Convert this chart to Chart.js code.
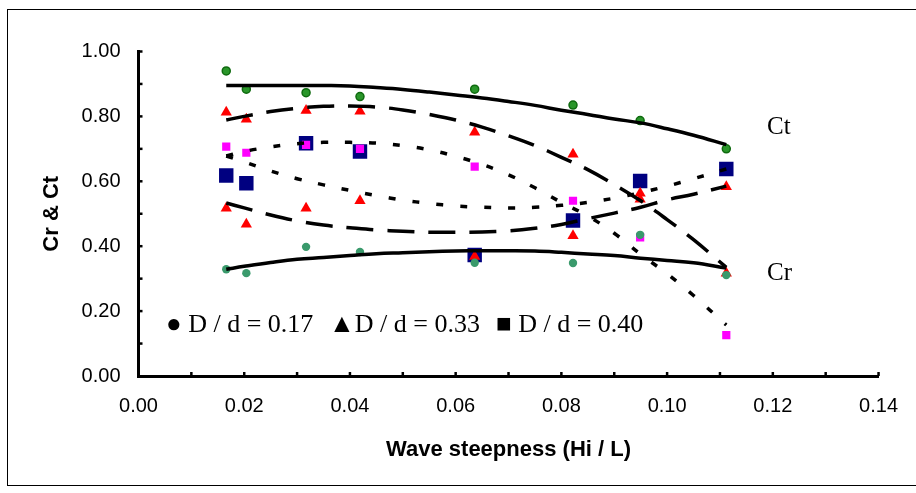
<!DOCTYPE html>
<html>
<head>
<meta charset="utf-8">
<script src="https://cdn.jsdelivr.net/npm/chart.js@4.4.0/dist/chart.umd.min.js"></script>
<style>
  html, body { margin: 0; padding: 0; background: #fff; }
  #wrap { position: relative; width: 916px; height: 493px; }
</style>
</head>
<body>
<div id="wrap"><canvas id="grafico" width="916" height="493"></canvas></div>
<script>
// ---------- dados medidos ----------
const ondaX = [0.0166, 0.0204, 0.0317, 0.0419, 0.0636, 0.0822, 0.0949, 0.1112];

const ctD017 = [0.940, 0.884, 0.873, 0.861, 0.884, 0.835, 0.787, 0.700];
const crD017 = [0.329, 0.317, 0.398, 0.382, 0.349, 0.348, 0.435, 0.311];
const ctD033 = [0.813, 0.791, 0.818, 0.816, 0.751, 0.683, 0.545, 0.317];
const crD033 = [0.517, 0.468, 0.517, 0.540, 0.368, 0.432, 0.563, 0.583];
const ctD040 = [0.618, 0.594, 0.717, 0.692, 0.373, 0.479, 0.601, 0.638];
const crD040 = [0.707, 0.688, 0.712, 0.700, 0.645, 0.540, 0.427, 0.126];

// linhas de tendência
const tendX = [0.0166, 0.02, 0.025, 0.03, 0.035, 0.04, 0.045, 0.05, 0.055, 0.06,
               0.065, 0.07, 0.075, 0.08, 0.085, 0.09, 0.095, 0.1, 0.105, 0.1112];
const tendCt017 = [0.895, 0.895, 0.895, 0.895, 0.895, 0.894, 0.889, 0.883, 0.875, 0.866,
                   0.857, 0.846, 0.834, 0.819, 0.806, 0.792, 0.780, 0.762, 0.742, 0.713];
const tendCr017 = [0.329, 0.338, 0.350, 0.360, 0.365, 0.371, 0.377, 0.380, 0.383, 0.385,
                   0.386, 0.386, 0.385, 0.381, 0.376, 0.371, 0.363, 0.356, 0.349, 0.333];
const tendCt033 = [0.789, 0.800, 0.815, 0.825, 0.831, 0.832, 0.829, 0.820, 0.806, 0.789,
                   0.767, 0.740, 0.710, 0.674, 0.636, 0.590, 0.540, 0.482, 0.420, 0.335];
const tendCr033 = [0.533, 0.518, 0.496, 0.478, 0.465, 0.457, 0.450, 0.446, 0.443, 0.443,
                   0.444, 0.447, 0.455, 0.467, 0.485, 0.502, 0.520, 0.543, 0.560, 0.585];
const tendCt040 = [0.678, 0.660, 0.632, 0.608, 0.589, 0.572, 0.556, 0.542, 0.532, 0.524,
                   0.520, 0.518, 0.520, 0.526, 0.535, 0.548, 0.565, 0.585, 0.608, 0.638];
const tendCr040 = [0.678, 0.692, 0.706, 0.716, 0.720, 0.720, 0.718, 0.710, 0.697, 0.677,
                   0.652, 0.620, 0.580, 0.535, 0.493, 0.440, 0.375, 0.315, 0.248, 0.157];

const legendas = ["\u25CF D / d = 0.17", "\u25B2D / d = 0.33", "\u25A0 D / d = 0.40"];

// ---------- helpers ----------
const pares = (xs, ys) => xs.map((x, i) => ({ x, y: ys[i] }));

function linha(ys, dash) {
  return {
    type: "line",
    data: pares(tendX, ys),
    borderColor: "#000",
    borderWidth: 3.5,
    borderDash: dash,
    borderCapStyle: "butt",
    pointRadius: 0,
    tension: 0.4,
    fill: false
  };
}

function pontos(ys, estilo, raio, cor, borda, bw) {
  return {
    type: "scatter",
    data: pares(ondaX, ys),
    pointStyle: estilo,
    pointRadius: raio,
    pointHoverRadius: raio,
    backgroundColor: cor,
    borderColor: borda || cor,
    borderWidth: bw || 0
  };
}

const fonteSerif = "'Liberation Serif', 'Times New Roman', serif";
const fonteSans = "'Liberation Sans', Arial, sans-serif";

// moldura, marcas internas dos eixos e textos
const extras = {
  id: "extras",
  beforeDraw(chart) {
    const ctx = chart.ctx;
    ctx.save();
    ctx.fillStyle = "#fff";
    ctx.fillRect(0, 0, chart.width, chart.height);
    ctx.strokeStyle = "#000";
    ctx.lineWidth = 1;
    ctx.strokeRect(7.5, 9.5, 930, 476);
    ctx.restore();
  },
  afterDraw(chart) {
    const ctx = chart.ctx;
    const sx = chart.scales.x, sy = chart.scales.y;
    ctx.save();
    ctx.strokeStyle = "#000";
    ctx.lineWidth = 2.5;
    for (let i = 1; i <= 14; i++) {
      const px = sx.getPixelForValue(i / 100);
      ctx.beginPath();
      ctx.moveTo(px, sy.bottom);
      ctx.lineTo(px, sy.bottom - 4);
      ctx.stroke();
    }
    for (let i = 1; i <= 10; i++) {
      const py = sy.getPixelForValue(i / 10);
      ctx.beginPath();
      ctx.moveTo(sx.left, py);
      ctx.lineTo(sx.left + 4, py);
      ctx.stroke();
    }
    ctx.fillStyle = "#000";
    ctx.textBaseline = "alphabetic";
    ctx.textAlign = "left";
    ctx.font = "25px " + fonteSerif;
    ctx.fillText("Ct", 767, 134);
    ctx.fillText("Cr", 767, 280);
    ctx.font = "26px " + fonteSerif;
    ctx.fillText(legendas[0], 166, 332);
    ctx.fillText(legendas[1], 329, 332);
    ctx.fillText(legendas[2], 496, 332);
    ctx.restore();
  }
};

new Chart(document.getElementById("grafico"), {
  data: {
    datasets: [
      linha(tendCt017, []),
      linha(tendCr017, []),
      linha(tendCt033, [27, 14]),
      linha(tendCr033, [27, 14]),
      linha(tendCt040, [7, 17]),
      linha(tendCr040, [7, 17]),
      pontos(ctD017, "circle", 4, "#2a962a", "#0f6a0f", 1.5),
      pontos(crD017, "circle", 4.2, "#3a9a6c"),
      pontos(ctD033, "triangle", 6.5, "#ff0000"),
      pontos(crD033, "triangle", 6.5, "#ff0000"),
      pontos(crD040, "rect", 5.8, "#ff00ff"),
      pontos(ctD040, "rect", 10.2, "#000080")
    ]
  },
  options: {
    responsive: false,
    animation: false,
    events: [],
    layout: { padding: { left: 0, top: 51.5, right: 34.3, bottom: 0 } },
    plugins: {
      legend: { display: false },
      tooltip: { enabled: false }
    },
    scales: {
      x: {
        type: "linear",
        position: "bottom",
        min: 0,
        max: 0.14,
        grid: { display: false, drawTicks: false },
        border: { display: true, color: "#000", width: 3 },
        ticks: {
          stepSize: 0.01,
          autoSkip: false,
          maxRotation: 0,
          padding: 18,
          color: "#000",
          font: { family: fonteSans, size: 20 },
          callback: v => (Math.round(v * 100) % 2 === 0 ? v.toFixed(2) : "")
        },
        title: {
          display: true,
          text: "Wave steepness (Hi / L)",
          color: "#000",
          font: { family: fonteSans, size: 22, weight: "bold" },
          padding: { top: 0, bottom: 30 }
        },
        afterFit: s => { s.height = 117; }
      },
      y: {
        type: "linear",
        position: "left",
        min: 0,
        max: 1,
        grid: { display: false, drawTicks: false },
        border: { display: true, color: "#000", width: 3 },
        ticks: {
          stepSize: 0.1,
          autoSkip: false,
          padding: 18,
          color: "#000",
          font: { family: fonteSans, size: 20 },
          callback: v => (Math.round(v * 10) % 2 === 0 ? v.toFixed(2) : "")
        },
        title: {
          display: true,
          text: "Cr & Ct",
          color: "#000",
          font: { family: fonteSans, size: 22, weight: "bold" },
          padding: { top: 39, bottom: 0 }
        },
        afterFit: s => { s.width = 138.5; }
      }
    }
  },
  plugins: [extras]
});
</script>
</body>
</html>
